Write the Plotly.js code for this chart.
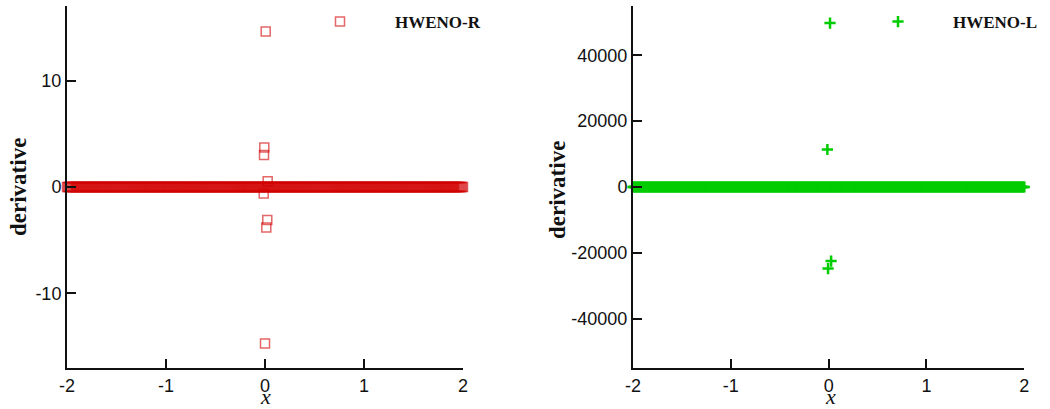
<!DOCTYPE html>
<html>
<head>
<meta charset="utf-8">
<script src="https://cdn.plot.ly/plotly-3.0.1.min.js"></script>
<style>
  html, body { margin: 0; padding: 0; background: #ffffff; }
  #chart { width: 1050px; height: 409px; }
</style>
</head>
<body>
<div id="chart"></div>
<script>
// Cell centres of the uniform mesh on [-2, 2]
const meshX = [
  -2,-1.99,-1.98,-1.97,-1.96,-1.95,-1.94,-1.93,-1.92,-1.91,
  -1.9,-1.89,-1.88,-1.87,-1.86,-1.85,-1.84,-1.83,-1.82,-1.81,
  -1.8,-1.79,-1.78,-1.77,-1.76,-1.75,-1.74,-1.73,-1.72,-1.71,
  -1.7,-1.69,-1.68,-1.67,-1.66,-1.65,-1.64,-1.63,-1.62,-1.61,
  -1.6,-1.59,-1.58,-1.57,-1.56,-1.55,-1.54,-1.53,-1.52,-1.51,
  -1.5,-1.49,-1.48,-1.47,-1.46,-1.45,-1.44,-1.43,-1.42,-1.41,
  -1.4,-1.39,-1.38,-1.37,-1.36,-1.35,-1.34,-1.33,-1.32,-1.31,
  -1.3,-1.29,-1.28,-1.27,-1.26,-1.25,-1.24,-1.23,-1.22,-1.21,
  -1.2,-1.19,-1.18,-1.17,-1.16,-1.15,-1.14,-1.13,-1.12,-1.11,
  -1.1,-1.09,-1.08,-1.07,-1.06,-1.05,-1.04,-1.03,-1.02,-1.01,
  -1,-0.99,-0.98,-0.97,-0.96,-0.95,-0.94,-0.93,-0.92,-0.91,
  -0.9,-0.89,-0.88,-0.87,-0.86,-0.85,-0.84,-0.83,-0.82,-0.81,
  -0.8,-0.79,-0.78,-0.77,-0.76,-0.75,-0.74,-0.73,-0.72,-0.71,
  -0.7,-0.69,-0.68,-0.67,-0.66,-0.65,-0.64,-0.63,-0.62,-0.61,
  -0.6,-0.59,-0.58,-0.57,-0.56,-0.55,-0.54,-0.53,-0.52,-0.51,
  -0.5,-0.49,-0.48,-0.47,-0.46,-0.45,-0.44,-0.43,-0.42,-0.41,
  -0.4,-0.39,-0.38,-0.37,-0.36,-0.35,-0.34,-0.33,-0.32,-0.31,
  -0.3,-0.29,-0.28,-0.27,-0.26,-0.25,-0.24,-0.23,-0.22,-0.21,
  -0.2,-0.19,-0.18,-0.17,-0.16,-0.15,-0.14,-0.13,-0.12,-0.11,
  -0.1,-0.09,-0.08,-0.07,-0.06,-0.05,-0.04,-0.03,-0.02,-0.01,
  0,0.01,0.02,0.03,0.04,0.05,0.06,0.07,0.08,0.09,
  0.1,0.11,0.12,0.13,0.14,0.15,0.16,0.17,0.18,0.19,
  0.2,0.21,0.22,0.23,0.24,0.25,0.26,0.27,0.28,0.29,
  0.3,0.31,0.32,0.33,0.34,0.35,0.36,0.37,0.38,0.39,
  0.4,0.41,0.42,0.43,0.44,0.45,0.46,0.47,0.48,0.49,
  0.5,0.51,0.52,0.53,0.54,0.55,0.56,0.57,0.58,0.59,
  0.6,0.61,0.62,0.63,0.64,0.65,0.66,0.67,0.68,0.69,
  0.7,0.71,0.72,0.73,0.74,0.75,0.76,0.77,0.78,0.79,
  0.8,0.81,0.82,0.83,0.84,0.85,0.86,0.87,0.88,0.89,
  0.9,0.91,0.92,0.93,0.94,0.95,0.96,0.97,0.98,0.99,
  1,1.01,1.02,1.03,1.04,1.05,1.06,1.07,1.08,1.09,
  1.1,1.11,1.12,1.13,1.14,1.15,1.16,1.17,1.18,1.19,
  1.2,1.21,1.22,1.23,1.24,1.25,1.26,1.27,1.28,1.29,
  1.3,1.31,1.32,1.33,1.34,1.35,1.36,1.37,1.38,1.39,
  1.4,1.41,1.42,1.43,1.44,1.45,1.46,1.47,1.48,1.49,
  1.5,1.51,1.52,1.53,1.54,1.55,1.56,1.57,1.58,1.59,
  1.6,1.61,1.62,1.63,1.64,1.65,1.66,1.67,1.68,1.69,
  1.7,1.71,1.72,1.73,1.74,1.75,1.76,1.77,1.78,1.79,
  1.8,1.81,1.82,1.83,1.84,1.85,1.86,1.87,1.88,1.89,
  1.9,1.91,1.92,1.93,1.94,1.95,1.96,1.97,1.98,1.99,
  2
];

// Derivative on the smooth part of the mesh: zero on every cell
const bandY = [
  0,0,0,0,0,0,0,0,0,0,0,0,0,0,0,0,0,0,0,0,
  0,0,0,0,0,0,0,0,0,0,0,0,0,0,0,0,0,0,0,0,
  0,0,0,0,0,0,0,0,0,0,0,0,0,0,0,0,0,0,0,0,
  0,0,0,0,0,0,0,0,0,0,0,0,0,0,0,0,0,0,0,0,
  0,0,0,0,0,0,0,0,0,0,0,0,0,0,0,0,0,0,0,0,
  0,0,0,0,0,0,0,0,0,0,0,0,0,0,0,0,0,0,0,0,
  0,0,0,0,0,0,0,0,0,0,0,0,0,0,0,0,0,0,0,0,
  0,0,0,0,0,0,0,0,0,0,0,0,0,0,0,0,0,0,0,0,
  0,0,0,0,0,0,0,0,0,0,0,0,0,0,0,0,0,0,0,0,
  0,0,0,0,0,0,0,0,0,0,0,0,0,0,0,0,0,0,0,0,
  0,0,0,0,0,0,0,0,0,0,0,0,0,0,0,0,0,0,0,0,
  0,0,0,0,0,0,0,0,0,0,0,0,0,0,0,0,0,0,0,0,
  0,0,0,0,0,0,0,0,0,0,0,0,0,0,0,0,0,0,0,0,
  0,0,0,0,0,0,0,0,0,0,0,0,0,0,0,0,0,0,0,0,
  0,0,0,0,0,0,0,0,0,0,0,0,0,0,0,0,0,0,0,0,
  0,0,0,0,0,0,0,0,0,0,0,0,0,0,0,0,0,0,0,0,
  0,0,0,0,0,0,0,0,0,0,0,0,0,0,0,0,0,0,0,0,
  0,0,0,0,0,0,0,0,0,0,0,0,0,0,0,0,0,0,0,0,
  0,0,0,0,0,0,0,0,0,0,0,0,0,0,0,0,0,0,0,0,
  0,0,0,0,0,0,0,0,0,0,0,0,0,0,0,0,0,0,0,0,
  0
];

// HWENO-R: non-zero derivative values in the cells around x = 0
const hwenoRX = [0.007, -0.007, -0.01, 0.027, -0.013, 0.023, 0.013, 0.0];
const hwenoRY = [14.6, 3.7, 3.0, 0.55, -0.6, -3.1, -3.8, -14.7];

// HWENO-L: non-zero derivative values in the cells around x = 0
const hwenoLX = [0.014, -0.013, 0.025, -0.006];
const hwenoLY = [49800, 11400, -22500, -24800];

// Tick positions and labels
const xTickVals = [-2, -1, 0, 1, 2];
const xTickText = ['-2', '-1', '0', '1', '2'];
const rTickVals = [-10, 0, 10];
const rTickText = ['-10', '0', '10'];
const lTickVals = [-40000, -20000, 0, 20000, 40000];
const lTickText = ['-40000', '-20000', '0', '20000', '40000'];

const W = 1050, H = 409;
const serif = 'Liberation Serif, Times New Roman, serif';
const sans = 'Liberation Sans, Arial, sans-serif';

const redMarker = {
  symbol: 'square-open', size: 9,
  color: 'rgba(210,0,0,0.6)',
  line: { width: 1.5 }
};
const greenMarker = {
  symbol: 'cross-thin-open', size: 8,
  color: '#00cc00',
  line: { width: 2.5, color: '#00cc00' }
};

const traces = [
  { type: 'scatter', mode: 'markers', x: meshX, y: bandY, xaxis: 'x', yaxis: 'y',
    name: 'HWENO-R', legend: 'legend', cliponaxis: false, marker: redMarker },
  { type: 'scatter', mode: 'markers', x: hwenoRX, y: hwenoRY, xaxis: 'x', yaxis: 'y',
    name: 'HWENO-R', showlegend: false, cliponaxis: false, marker: redMarker },
  { type: 'scatter', mode: 'markers', x: meshX, y: bandY, xaxis: 'x2', yaxis: 'y2',
    name: 'HWENO-L', legend: 'legend2', cliponaxis: false, marker: greenMarker },
  { type: 'scatter', mode: 'markers', x: hwenoLX, y: hwenoLY, xaxis: 'x2', yaxis: 'y2',
    name: 'HWENO-L', showlegend: false, cliponaxis: false, marker: greenMarker }
];

const axisBase = {
  showline: true, linecolor: '#111', linewidth: 2,
  ticks: 'inside', ticklen: 9, tickwidth: 2, tickcolor: '#111',
  showgrid: false, zeroline: false, mirror: false,
  automargin: false, fixedrange: true,
  tickmode: 'array',
  tickfont: { family: sans, size: 18, color: '#111' }
};

const yDomain = [1 - 368 / H, 1 - 6 / H];

const legendBase = {
  xref: 'paper', yref: 'paper', xanchor: 'left', yanchor: 'top', y: 1 - 4 / H,
  itemwidth: 100, bgcolor: 'rgba(0,0,0,0)', borderwidth: 0,
  font: { family: serif, size: 17, weight: 'bold', color: '#111' }
};

const titleFont = { family: serif, size: 23, weight: 'bold', color: '#111' };
const xFont = { family: serif, size: 22, style: 'italic', color: '#111' };

const layout = {
  width: W, height: H,
  margin: { l: 0, r: 0, t: 0, b: 0, autoexpand: false },
  paper_bgcolor: '#ffffff', plot_bgcolor: '#ffffff',
  xaxis: Object.assign({}, axisBase, { domain: [67 / W, 463 / W], range: [-2, 2], anchor: 'y',
    tickvals: xTickVals, ticktext: xTickText }),
  yaxis: Object.assign({}, axisBase, { domain: yDomain, range: [-17, 17], anchor: 'x',
    tickvals: rTickVals, ticktext: rTickText }),
  xaxis2: Object.assign({}, axisBase, { domain: [633 / W, 1024.3 / W], range: [-2, 2], anchor: 'y2',
    tickvals: xTickVals, ticktext: xTickText }),
  yaxis2: Object.assign({}, axisBase, { domain: yDomain, range: [-55000, 55000], anchor: 'x2',
    tickvals: lTickVals, ticktext: lTickText }),
  legend: Object.assign({}, legendBase, { x: 285 / W }),
  legend2: Object.assign({}, legendBase, { x: 843 / W }),
  annotations: [
    { xref: 'paper', yref: 'paper', x: 18 / W, y: 1 - 187 / H, text: 'derivative',
      textangle: -90, showarrow: false, xanchor: 'center', yanchor: 'middle', font: titleFont },
    { xref: 'paper', yref: 'paper', x: 557 / W, y: 1 - 190 / H, text: 'derivative',
      textangle: -90, showarrow: false, xanchor: 'center', yanchor: 'middle', font: titleFont },
    { xref: 'paper', yref: 'paper', x: 265 / W, y: 1 - 396 / H, text: 'x',
      showarrow: false, xanchor: 'center', yanchor: 'middle', font: xFont },
    { xref: 'paper', yref: 'paper', x: 830 / W, y: 1 - 396 / H, text: 'x',
      showarrow: false, xanchor: 'center', yanchor: 'middle', font: xFont }
  ]
};

Plotly.newPlot('chart', traces, layout, { displayModeBar: false, staticPlot: true });
</script>
</body>
</html>
